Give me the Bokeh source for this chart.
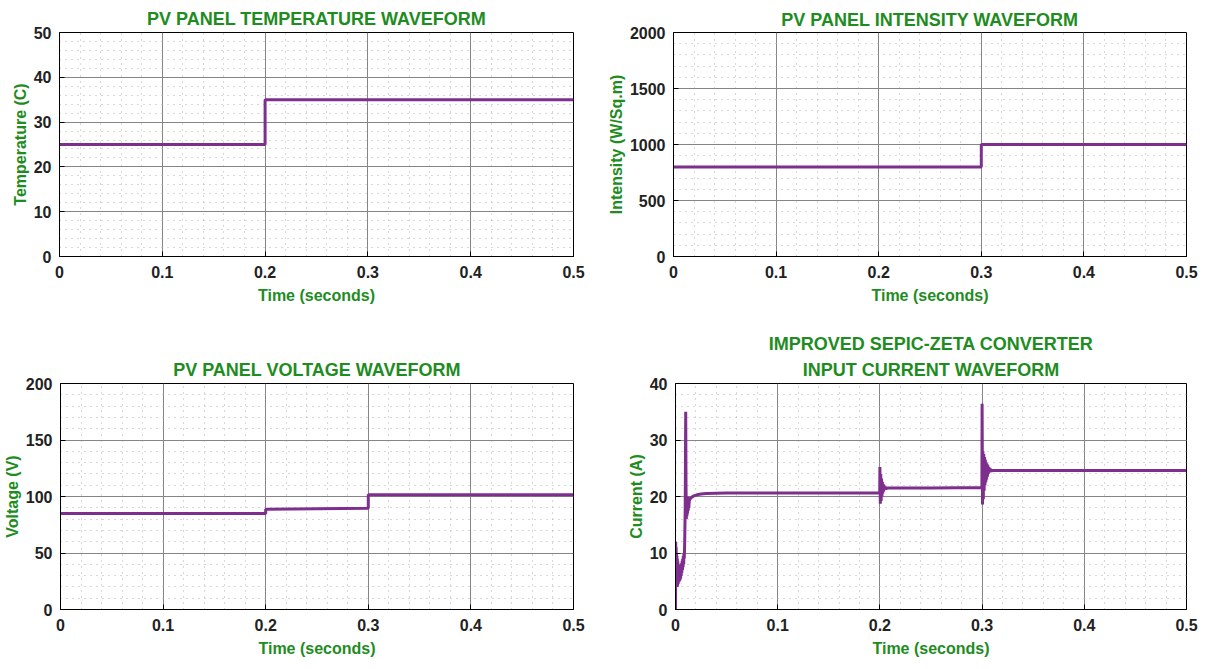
from bokeh.plotting import figure
from bokeh.layouts import column, row
from bokeh.models import Range1d, SingleIntervalTicker, Title
from bokeh.embed import file_html
from bokeh.resources import INLINE

# ---------------- data ----------------
temp_t = [0.0, 0.2, 0.2, 0.5]
temp_v = [25, 25, 35, 35]

int_t = [0.0, 0.3, 0.3, 0.5]
int_v = [800, 800, 1000, 1000]

volt_t = [0.0, 0.2, 0.2, 0.3, 0.3, 0.5]
volt_v = [85, 85, 88.7, 89.7, 101.5, 101.5]

cur_t = [0.0, 0.0002, 0.0004, 0.0006, 0.0008, 0.0010, 0.0012, 0.0014, 0.0016, 0.0018,
         0.0020, 0.0023, 0.0026, 0.0029, 0.0032, 0.0035, 0.0038, 0.0041, 0.0044, 0.0047,
         0.0050, 0.0053, 0.0056, 0.0059, 0.0062, 0.0065, 0.0068, 0.0071, 0.0074, 0.0077,
         0.0080, 0.0083, 0.0086, 0.0090, 0.0095, 0.0100, 0.0103, 0.0106, 0.0109, 0.0112,
         0.0115, 0.0118, 0.0121, 0.0124, 0.0127, 0.0130, 0.0135, 0.0145, 0.0160, 0.0180,
         0.0210, 0.0250, 0.0300, 0.0500, 0.1000, 0.1500, 0.1998,
         0.2000, 0.2004, 0.2008, 0.2012, 0.2016, 0.2020, 0.2024, 0.2028, 0.2032, 0.2036,
         0.2040, 0.2045, 0.2050, 0.2060, 0.2080, 0.2500, 0.2998,
         0.3000, 0.3004, 0.3008, 0.3012, 0.3016, 0.3020, 0.3024, 0.3028, 0.3032, 0.3036,
         0.3040, 0.3044, 0.3048, 0.3052, 0.3056, 0.3060, 0.3066, 0.3072, 0.3080, 0.3090,
         0.3100, 0.4000, 0.5000]
cur_v = [0.0, 12.0, 4.0, 11.0, 4.5, 10.0, 4.0, 9.5, 4.0, 9.0,
         4.2, 8.5, 4.5, 8.0, 4.8, 7.8, 5.0, 7.5, 5.2, 7.6,
         5.5, 7.8, 6.0, 8.2, 6.5, 8.6, 7.0, 9.0, 7.5, 9.5,
         8.0, 10.0, 9.0, 12.0, 18.0, 35.0, 22.0, 16.0, 20.0, 16.5,
         20.0, 17.0, 20.0, 17.5, 19.8, 18.0, 19.3, 19.6, 19.9, 20.1,
         20.3, 20.45, 20.55, 20.6, 20.6, 20.6, 20.6,
         25.2, 18.7, 24.0, 19.2, 23.2, 20.0, 22.6, 20.5, 22.2, 20.9,
         21.9, 21.2, 21.7, 21.4, 21.5, 21.5, 21.6,
         36.4, 18.6, 28.0, 19.5, 27.5, 21.0, 27.0, 22.0, 26.5, 22.5,
         26.0, 23.0, 25.8, 23.5, 25.5, 24.0, 25.2, 24.3, 24.9, 24.5,
         24.6, 24.6, 24.6]

x_tick_labels = {0: "0", 0.1: "0.1", 0.2: "0.2", 0.3: "0.3", 0.4: "0.4", 0.5: "0.5"}

GREEN = "#1e8c1e"
PURPLE = "#7e2f8e"
FONT = "Liberation Sans"


def make_fig(titles, ylabel, ymax, yint, width, height, bl, br, bt, bb, standoff):
    p = figure(width=width, height=height, output_backend="svg", toolbar_location=None,
               x_range=Range1d(0, 0.5), y_range=Range1d(0, ymax),
               min_border_left=bl, min_border_right=br, min_border_top=bt,
               min_border_bottom=bb)
    p.title = None
    # titles listed from bottom (closest to the frame) to top
    for i, t in enumerate(titles):
        tt = Title(text=t, align="center", text_font=FONT, text_font_size="18px",
                   text_font_style="bold", text_color=GREEN,
                   standoff=standoff if i == 0 else 2)
        p.add_layout(tt, "above")

    p.xaxis.ticker = SingleIntervalTicker(interval=0.1, num_minor_ticks=5)
    p.yaxis.ticker = SingleIntervalTicker(interval=yint, num_minor_ticks=5)
    p.xaxis.major_label_overrides = x_tick_labels
    for ax in (p.xaxis[0], p.yaxis[0]):
        ax.major_label_text_font = FONT
        ax.major_label_text_font_size = "16px"
        ax.major_label_text_font_style = "bold"
        ax.major_label_text_color = "#222222"
        ax.axis_label_text_font = FONT
        ax.axis_label_text_font_size = "16px"
        ax.axis_label_text_font_style = "bold"
        ax.axis_label_text_color = GREEN
        ax.major_tick_in = 5
        ax.major_tick_out = 0
        ax.minor_tick_line_color = None
        ax.axis_line_color = "black"
        ax.major_tick_line_color = "black"
    p.xaxis.axis_label = "Time (seconds)"
    p.yaxis.axis_label = ylabel
    p.xaxis.axis_label_standoff = 6
    p.yaxis.axis_label_standoff = 2
    p.xaxis.major_label_standoff = 5
    p.yaxis.major_label_standoff = 4

    for g in (p.xgrid[0], p.ygrid[0]):
        g.grid_line_color = "#858585"
        g.grid_line_width = 1
        g.minor_grid_line_color = "#b0b0b0"
        g.minor_grid_line_dash = "1 5"
        g.minor_grid_line_width = 1
    p.outline_line_color = "black"
    p.outline_line_width = 1
    p.outline_line_alpha = 1
    p.background_fill_color = "white"
    p.border_fill_color = "white"
    return p


p1 = make_fig(["PV PANEL TEMPERATURE WAVEFORM"], "Temperature (C)", 50, 10,
              604, 315, 59, 31, 32, 59, 8)
p1.line(temp_t, temp_v, line_color=PURPLE, line_width=3)

p2 = make_fig(["PV PANEL INTENSITY WAVEFORM"], "Intensity (W/Sq.m)", 2000, 500,
              605, 315, 68, 23, 27, 55, 6)
p2.line(int_t, int_v, line_color=PURPLE, line_width=3)

p3 = make_fig(["PV PANEL VOLTAGE WAVEFORM"], "Voltage (V)", 200, 50,
              604, 354, 59, 31, 66, 60, 8)
p3.line(volt_t, volt_v, line_color=PURPLE, line_width=3)

p4 = make_fig(["INPUT CURRENT WAVEFORM", "IMPROVED SEPIC-ZETA CONVERTER"], "Current (A)", 40, 10,
              605, 354, 71, 23, 68, 56, 7)
p4.line(cur_t, cur_v, line_color=PURPLE, line_width=3)

layout = column(row(p1, p2, spacing=0), row(p3, p4, spacing=0), spacing=0)

open("out.html", "w").write(file_html(layout, INLINE))
